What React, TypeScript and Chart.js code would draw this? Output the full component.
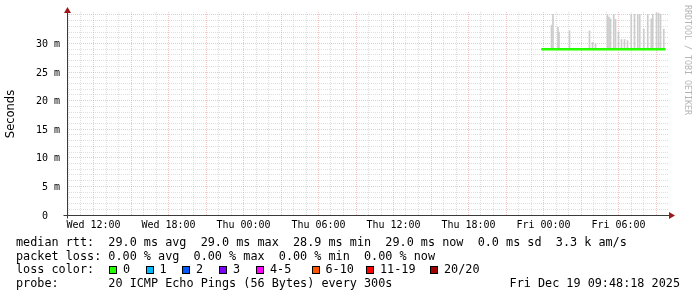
import React, { useEffect, useRef } from "react";
import { Chart, registerables } from "chart.js";

Chart.register(...registerables);

// ---- axis ranges (hours since Wed 00:00, milliseconds) ----
const X_MIN = 9.88;
const X_MAX = 57.96;
const Y_MIN = 0;
const Y_MAX = 35.5;

const xTickHours = [12, 18, 24, 30, 36, 42, 48, 54];
const xTickLabels = ["Wed 12:00", "Wed 18:00", "Thu 00:00", "Thu 06:00", "Thu 12:00", "Thu 18:00", "Fri 00:00", "Fri 06:00"];
const yTickValues = [0, 5, 10, 15, 20, 25, 30];
const yTickLabels = ["0  ", "5 m", "10 m", "15 m", "20 m", "25 m", "30 m"];

// ---- median rtt (green line, 0 loss) ----
const medianTimes = [47.82, 57.76];
const medianValues = [29.0, 29.0];

// ---- smoke spikes (max ping of each 5-min round), base at median ----
const smokeBase = 29.0;
const smokeTimes = [
  48.64, 48.76, 49.16, 49.24, 50.08, 51.68, 51.92, 52.16, 53.12, 53.24, 53.36, 53.62, 53.76, 54.0,
  54.24, 54.48, 54.72, 55.02, 55.28, 55.54, 55.7, 56.02, 56.34, 56.62, 56.74, 57.04, 57.2, 57.36, 57.62,
];
const smokeTops = [
  33.2, 35.1, 32.8, 32.0, 32.2, 32.2, 30.2, 30.0, 35.0, 34.6, 34.3, 35.1, 34.2, 32.0,
  30.7, 30.7, 30.5, 35.1, 35.1, 35.1, 35.1, 32.5, 35.1, 34.3, 35.1, 35.3, 35.3, 35.1, 32.5,
];

// ---- legend ----
const lossColors = ["#26ff00", "#00b8ff", "#0059ff", "#7e00ff", "#ff00ff", "#ff5500", "#ff0000", "#a10000"];
const lossLabels = ["0", "1", "2", "3", "4-5", "6-10", "11-19", "20/20"];
const lossSquareX = [109, 145.5, 182, 219, 256, 311.5, 366, 430];

const medianLine = "median rtt:  29.0 ms avg  29.0 ms max  28.9 ms min  29.0 ms now  0.0 ms sd  3.3 k am/s";
const lossLine = "packet loss: 0.00 % avg  0.00 % max  0.00 % min  0.00 % now";
const probeLine = "probe:       20 ICMP Echo Pings (56 Bytes) every 300s";
const dateLine = "Fri Dec 19 09:48:18 2025";

const MINOR = "rgba(200,200,200,0.6)";
const MAJOR = "rgba(235,140,140,0.5)";
const AXIS = "#3a3a3a";
const ARROW = "#9a1a1a";
const MONO = "'DejaVu Sans Mono', monospace";

const rrdPlugin = {
  id: "rrd",
  beforeDatasetsDraw(chart: any) {
    const { ctx, chartArea: a, scales } = chart;
    const xs = scales.x;
    const ys = scales.y;
    ctx.save();
    ctx.lineWidth = 1;
    ctx.setLineDash([1, 1]);
    const passes = [false, true];
    for (const major of passes) {
      ctx.strokeStyle = major ? MAJOR : MINOR;
      for (let h = Math.ceil(X_MIN); h <= X_MAX; h++) {
        if ((h % 3 === 0) !== major) continue;
        const px = Math.floor(xs.getPixelForValue(h)) + 0.5;
        ctx.beginPath();
        ctx.moveTo(px, a.top);
        ctx.lineTo(px, a.bottom);
        ctx.stroke();
      }
      for (let v = 1; v <= Y_MAX; v++) {
        if ((v % 5 === 0) !== major) continue;
        const py = Math.floor(ys.getPixelForValue(v)) + 0.5;
        ctx.beginPath();
        ctx.moveTo(a.left, py);
        ctx.lineTo(a.right, py);
        ctx.stroke();
      }
    }
    ctx.restore();
  },
  afterDatasetsDraw(chart: any) {
    const { ctx, chartArea: a, scales } = chart;
    const xs = scales.x;
    const ys = scales.y;
    ctx.save();
    // axes
    const ox = Math.floor(xs.getPixelForValue(X_MIN)) + 0.5;
    const oy = Math.floor(ys.getPixelForValue(Y_MIN)) + 0.5;
    ctx.strokeStyle = AXIS;
    ctx.lineWidth = 1;
    ctx.beginPath();
    ctx.moveTo(ox, oy + 3);
    ctx.lineTo(ox, a.top - 1);
    ctx.moveTo(ox - 4, oy);
    ctx.lineTo(a.right + 2, oy);
    ctx.stroke();
    // arrows
    ctx.fillStyle = ARROW;
    ctx.beginPath();
    ctx.moveTo(ox, a.top - 5);
    ctx.lineTo(ox - 3.5, a.top + 1);
    ctx.lineTo(ox + 3.5, a.top + 1);
    ctx.closePath();
    ctx.fill();
    ctx.beginPath();
    ctx.moveTo(a.right + 7, oy);
    ctx.lineTo(a.right + 1, oy - 3.5);
    ctx.lineTo(a.right + 1, oy + 3.5);
    ctx.closePath();
    ctx.fill();
    // tick labels
    ctx.fillStyle = "#000";
    ctx.font = `10px ${MONO}`;
    ctx.textAlign = "right";
    ctx.textBaseline = "middle";
    yTickValues.forEach((v, i) => {
      ctx.fillText(yTickLabels[i], 60, Math.floor(ys.getPixelForValue(v)) + 1.5);
    });
    ctx.textAlign = "center";
    xTickHours.forEach((h, i) => {
      ctx.fillText(xTickLabels[i], Math.floor(xs.getPixelForValue(h)) + 0.5, a.bottom + 10);
    });
    // y title
    ctx.save();
    ctx.translate(11, 114);
    ctx.rotate(-Math.PI / 2);
    ctx.font = "11.5px 'DejaVu Sans', sans-serif";
    ctx.textAlign = "center";
    ctx.textBaseline = "middle";
    ctx.fillText("Seconds", 0, 0);
    ctx.restore();
    // watermark
    ctx.save();
    ctx.translate(687, 60);
    ctx.rotate(Math.PI / 2);
    ctx.font = `8.3px ${MONO}`;
    ctx.fillStyle = "#b4b4b4";
    ctx.textAlign = "center";
    ctx.textBaseline = "middle";
    ctx.fillText("RRDTOOL / TOBI OETIKER", 0, 0);
    ctx.restore();
    ctx.restore();
  },
};

export default function App() {
  const ref = useRef<HTMLCanvasElement | null>(null);
  useEffect(() => {
    if (!ref.current) return;
    const chart = new Chart(ref.current, {
      type: "bar",
      data: {
        datasets: [
          {
            type: "bar",
            label: "smoke",
            data: smokeTimes.map((t, i) => ({ x: t, y: [smokeBase, smokeTops[i]] })) as any,
            backgroundColor: "#cccccc",
            borderWidth: 0,
            barThickness: 1,
            grouped: false,
            order: 2,
          } as any,
          {
            type: "line",
            label: "median rtt",
            data: medianTimes.map((t, i) => ({ x: t, y: medianValues[i] })),
            borderColor: lossColors[0],
            borderWidth: 2.5,
            pointRadius: 0,
            tension: 0,
            order: 1,
          } as any,
        ],
      },
      options: {
        animation: false,
        responsive: false,
        devicePixelRatio: 1,
        layout: { padding: { left: 67, right: 29, top: 12, bottom: 82 } },
        plugins: { legend: { display: false }, tooltip: { enabled: false } },
        scales: {
          x: { type: "linear", min: X_MIN, max: X_MAX, display: false, offset: false },
          y: { type: "linear", min: Y_MIN, max: Y_MAX, display: false },
        },
      },
      plugins: [rrdPlugin],
    });
    return () => chart.destroy();
  }, []);

  const textStyle: React.CSSProperties = {
    position: "absolute",
    left: 16,
    fontFamily: MONO,
    fontSize: "11.8px",
    lineHeight: "14px",
    whiteSpace: "pre",
    color: "#000",
    margin: 0,
  };

  return (
    <div style={{ position: "fixed", left: 0, top: 0, width: 697, height: 297, background: "#fff", overflow: "hidden" }}>
      <canvas ref={ref} width={697} height={297} style={{ position: "absolute", left: 0, top: 0, width: 697, height: 297 }} />
      <div style={{ ...textStyle, top: 234.5 }}>{medianLine}</div>
      <div style={{ ...textStyle, top: 248.5 }}>{lossLine}</div>
      <div style={{ ...textStyle, top: 262 }}>loss color:</div>
      {lossLabels.map((lab, i) => (
        <React.Fragment key={lab}>
          <span
            style={{
              position: "absolute",
              left: lossSquareX[i],
              top: 266,
              width: 8,
              height: 8,
              boxSizing: "border-box",
              border: "1px solid #000",
              background: lossColors[i],
            }}
          />
          <div style={{ ...textStyle, left: lossSquareX[i] + 14, top: 262 }}>{lab}</div>
        </React.Fragment>
      ))}
      <div style={{ ...textStyle, top: 276 }}>{probeLine}</div>
      <div style={{ ...textStyle, left: "auto", right: 17, top: 276 }}>{dateLine}</div>
    </div>
  );
}
